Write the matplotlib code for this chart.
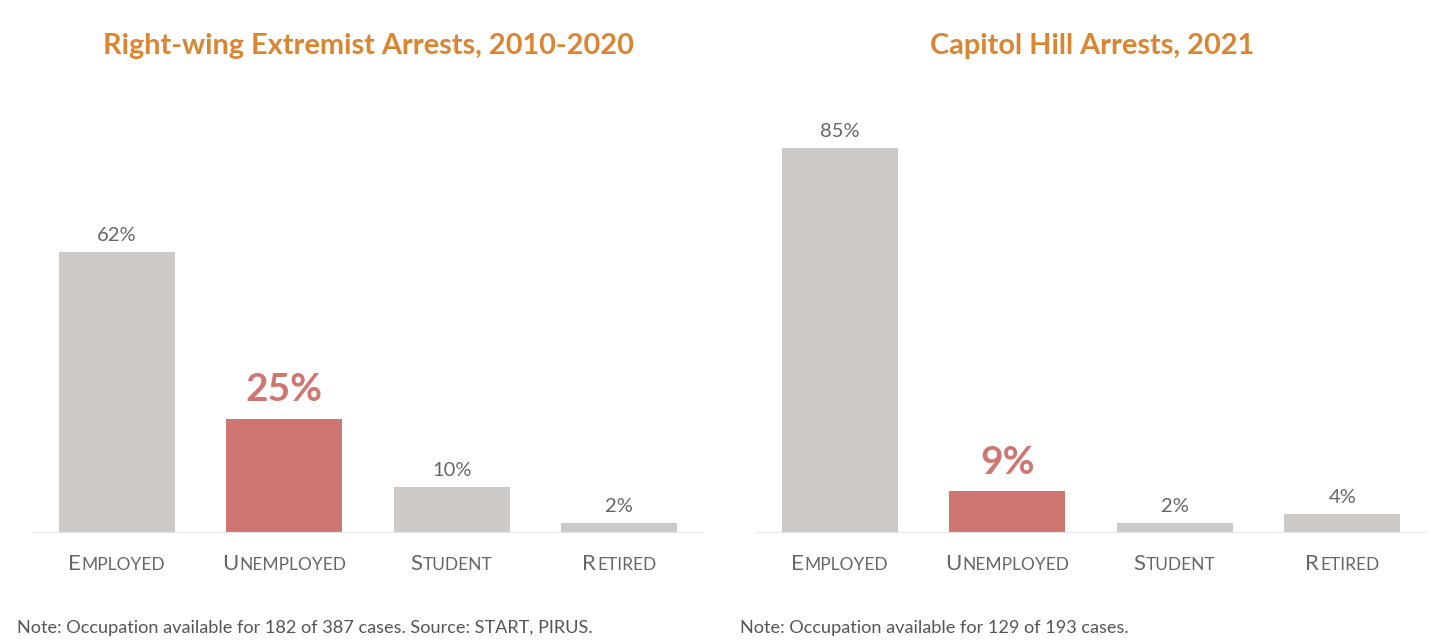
import matplotlib.pyplot as plt
from matplotlib.offsetbox import TextArea, HPacker, AnnotationBbox

categories = ['Employed', 'Unemployed', 'Student', 'Retired']
left_values = [62, 25, 10, 2]
right_values = [85, 9, 2, 4]
left_title = "Right-wing Extremist Arrests, 2010-2020"
right_title = "Capitol Hill Arrests, 2021"
left_note = "Note: Occupation available for 182 of 387 cases. Source: START, PIRUS."
right_note = "Note: Occupation available for 129 of 193 cases."
highlight = 'Unemployed'

GRAY = '#ccc9c6'
RED = '#d07672'
ORANGE = '#db8530'
TEXT = '#666666'

plt.rcParams['font.family'] = ['Lato', 'DejaVu Sans']


def smallcaps(ax, x, word):
    first = TextArea(word[0].upper(), textprops=dict(fontsize=16, color=TEXT))
    rest = TextArea(word[1:].upper(), textprops=dict(fontsize=12.5, color=TEXT))
    box = HPacker(children=[first, rest], align='baseline', pad=0, sep=0.5)
    ab = AnnotationBbox(box, (x, 0), xycoords=ax.get_xaxis_transform(),
                        xybox=(0, -16), boxcoords='offset points',
                        box_alignment=(0.5, 1), frameon=False)
    ax.add_artist(ab)


def panel(ax, values, title):
    x = range(len(categories))
    colors = [RED if c == highlight else GRAY for c in categories]
    ax.bar(x, values, width=0.69, color=colors)
    for xi, v, c in zip(x, values, categories):
        if c == highlight:
            ax.text(xi, v + 2.6, f"{v}%", ha='center', va='bottom', fontsize=28,
                    fontweight='bold', color=RED)
        else:
            ax.text(xi, v + 1.8, f"{v}%", ha='center', va='bottom', fontsize=14.5,
                    color=TEXT)
        smallcaps(ax, xi, c)
    ax.set_xlim(-0.5, 3.5)
    ax.set_ylim(0, 100)
    for s in ['top', 'right', 'left']:
        ax.spines[s].set_visible(False)
    ax.spines['bottom'].set_color('#e8e8e8')
    ax.set_xticks([])
    ax.set_yticks([])
    ax.set_facecolor('none')


fig = plt.figure(figsize=(14.48, 6.42), dpi=100)
ax1 = fig.add_axes([33 / 1448, 0.1713, 670 / 1448, 0.704])
ax2 = fig.add_axes([756 / 1448, 0.1713, 670 / 1448, 0.704])
panel(ax1, left_values, left_title)
panel(ax2, right_values, right_title)

fig.text(368 / 1448, 1 - 46 / 642, left_title, ha='center', va='center',
         fontsize=20.8, fontweight='bold', color=ORANGE)
fig.text(1092 / 1448, 1 - 46 / 642, right_title, ha='center', va='center',
         fontsize=20.8, fontweight='bold', color=ORANGE)
fig.text(17 / 1448, 1 - 628 / 642, left_note, ha='left', va='center',
         fontsize=13.1, color='#555555')
fig.text(740 / 1448, 1 - 628 / 642, right_note, ha='left', va='center',
         fontsize=13.1, color='#555555')

fig.savefig('out.png', dpi=100)
